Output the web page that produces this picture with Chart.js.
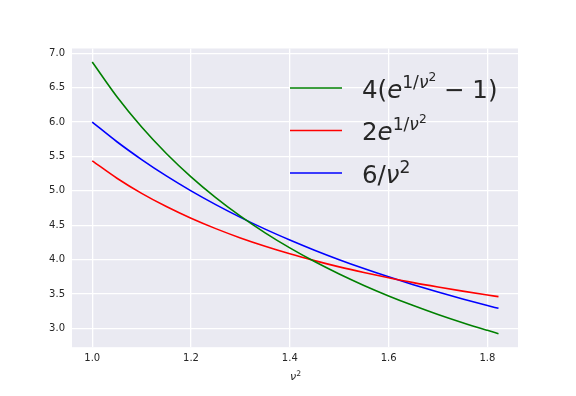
<!DOCTYPE html>
<html>
<head>
<meta charset="utf-8">
<script src="https://cdn.jsdelivr.net/npm/chart.js@4"></script>
<style>
  html, body { margin: 0; padding: 0; background: #fff; }
  #wrap { width: 576px; height: 396px; position: relative; }
</style>
</head>
<body>
<div id="wrap"><canvas id="plot"></canvas></div>
<script>
// nu^2 samples and the three curves
const nu2 = [1.00, 1.05, 1.10, 1.15, 1.20, 1.25, 1.30, 1.35, 1.40, 1.45, 1.50, 1.55, 1.60, 1.65, 1.70, 1.75, 1.80, 1.8225]
const greenVals = [6.873, 6.368, 5.928, 5.544, 5.204, 4.902, 4.632, 4.390, 4.171, 3.972, 3.791, 3.625, 3.473, 3.333, 3.203, 3.083, 2.972, 2.924]
const redVals = [5.437, 5.184, 4.964, 4.772, 4.602, 4.451, 4.316, 4.195, 4.085, 3.986, 3.895, 3.813, 3.737, 3.666, 3.602, 3.542, 3.486, 3.462]
const blueVals = [6.000, 5.714, 5.455, 5.217, 5.000, 4.800, 4.615, 4.444, 4.286, 4.138, 4.000, 3.871, 3.750, 3.636, 3.529, 3.429, 3.333, 3.292]

const xTicks = [1.0, 1.2, 1.4, 1.6, 1.8]
const yTicks = [3.0, 3.5, 4.0, 4.5, 5.0, 5.5, 6.0, 6.5, 7.0]

const textColor = '#262626'
const bgColor = '#EAEAF2'

function pts(ys) {
    return nu2.map((x, i) => ({ x: x, y: ys[i] }))
}

// legend entries: runs of text [text, italic, level] (level 0 = base, 1 = sup, 2 = sup-sup)
const legendItems = [
    { color: '#008000', runs: [['4(', false, 0], ['e', true, 0], ['1/', false, 1], ['ν', true, 1], ['2', false, 2], [' − 1)', false, 0]] },
    { color: '#FF0000', runs: [['2', false, 0], ['e', true, 0], ['1/', false, 1], ['ν', true, 1], ['2', false, 2]] },
    { color: '#0000FF', runs: [['6/', false, 0], ['ν', true, 0], ['2', false, 1]] }
]

const bgPlugin = {
    id: 'bg',
    beforeDraw(chart) {
        const a = chart.chartArea
        const ctx = chart.ctx
        ctx.save()
        ctx.fillStyle = bgColor
        ctx.fillRect(a.left, a.top, a.right - a.left, a.bottom - a.top)
        ctx.restore()
    }
}

function drawRuns(ctx, runs, x, y, size) {
    const sizes = [size, size * 0.7, size * 0.5]
    const rise = [0, size * 0.4, size * 0.68]
    for (const [t, it, lvl] of runs) {
        ctx.font = (it ? 'italic ' : '') + sizes[lvl] + 'px "DejaVu Sans"'
        ctx.fillText(t, x, y - rise[lvl])
        x += ctx.measureText(t).width
    }
}

const legendPlugin = {
    id: 'mathLegend',
    afterDraw(chart) {
        const ctx = chart.ctx
        ctx.save()
        ctx.textBaseline = 'alphabetic'
        ctx.fillStyle = textColor
        legendItems.forEach((item, i) => {
            const cy = 88 + i * 42.5
            ctx.strokeStyle = item.color
            ctx.lineWidth = 1.6
            ctx.beginPath()
            ctx.moveTo(290, cy)
            ctx.lineTo(342, cy)
            ctx.stroke()
            ctx.fillStyle = textColor
            drawRuns(ctx, item.runs, 362, cy + 9.5, 24.5)
        })
        // x label
        ctx.textAlign = 'left'
        const xl = [['ν', true, 0], ['2', false, 1]]
        drawRuns(ctx, xl, 290, 380, 11)
        ctx.restore()
    }
}

const config = {
    type: 'line',
    data: {
        datasets: [
            { data: pts(greenVals), borderColor: '#008000' },
            { data: pts(redVals), borderColor: '#FF0000' },
            { data: pts(blueVals), borderColor: '#0000FF' }
        ]
    },
    options: {
        responsive: false,
        animation: false,
        layout: { padding: { top: 48.5, right: 58, left: 0, bottom: 0 } },
        elements: {
            point: { radius: 0 },
            line: { borderWidth: 1.6, cubicInterpolationMode: 'monotone' }
        },
        plugins: {
            legend: { display: false },
            tooltip: { enabled: false }
        },
        scales: {
            x: {
                type: 'linear',
                min: 0.959,
                max: 1.862,
                afterBuildTicks(s) { s.ticks = xTicks.map(v => ({ value: v })) },
                afterFit(s) { s.height = 48.8 },
                border: { display: false },
                grid: { color: '#ffffff', lineWidth: 1.3, drawTicks: false },
                ticks: {
                    color: textColor,
                    font: { family: 'DejaVu Sans', size: 10 },
                    padding: 5,
                    maxRotation: 0,
                    callback: v => v.toFixed(1)
                }
            },
            y: {
                min: 2.727,
                max: 7.07,
                afterBuildTicks(s) { s.ticks = yTicks.map(v => ({ value: v })) },
                afterFit(s) { s.width = 72 },
                border: { display: false },
                grid: { color: '#ffffff', lineWidth: 1.3, drawTicks: false },
                ticks: {
                    color: textColor,
                    font: { family: 'DejaVu Sans', size: 10 },
                    padding: 7,
                    callback: v => v.toFixed(1)
                }
            }
        }
    },
    plugins: [bgPlugin, legendPlugin]
}

const canvas = document.getElementById('plot')
canvas.width = 576
canvas.height = 396
const chart = new Chart(canvas, config)
</script>
</body>
</html>
